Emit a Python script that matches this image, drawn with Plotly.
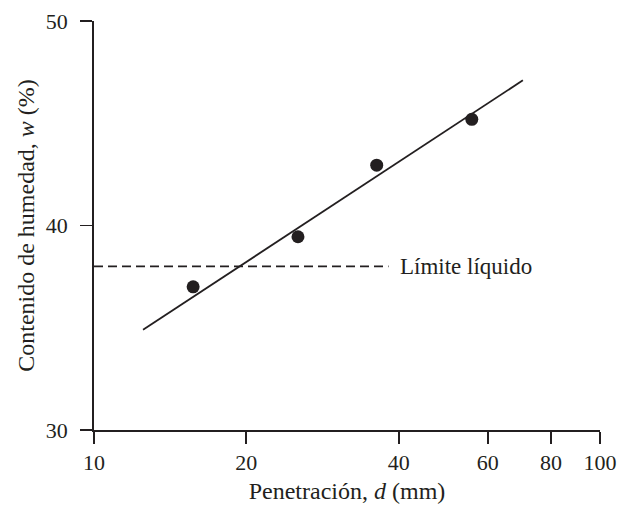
import math
import plotly.graph_objects as go

# Data
penetracion = [15.7, 25.3, 36.2, 55.8]
humedad = [37.0, 39.45, 42.95, 45.19]
recta_x = [12.5, 70.4]
recta_y = [34.9, 47.1]
limite_x = [10, 38.2]
limite_y = [38.0, 38.0]
x_ticks = [10, 20, 40, 60, 80, 100]
y_ticks = [30, 40, 50]

ink = "#231f20"
font = "Liberation Serif, Times New Roman, serif"

fig = go.Figure()
fig.add_trace(go.Scatter(x=recta_x, y=recta_y, mode="lines",
                         line=dict(color=ink, width=1.8), showlegend=False))
fig.add_trace(go.Scatter(x=limite_x, y=limite_y, mode="lines",
                         line=dict(color=ink, width=1.6, dash="9px,5px"), showlegend=False))
fig.add_trace(go.Scatter(x=penetracion, y=humedad, mode="markers",
                         marker=dict(color=ink, size=13), showlegend=False))

fig.add_annotation(x=math.log10(40.3), y=38.0, text="Límite líquido", showarrow=False,
                   xanchor="left", yanchor="middle", xshift=-2,
                   font=dict(family=font, size=23, color=ink))

fig.update_xaxes(type="log", range=[1, 2], tickvals=x_ticks, ticktext=[str(v) for v in x_ticks],
                 showline=True, linecolor=ink, linewidth=1.8, ticks="outside", ticklen=12,
                 tickcolor=ink, tickwidth=1.8, showgrid=False, zeroline=False, automargin=False,
                 tickfont=dict(family=font, size=22, color=ink),
                 title=dict(text="Penetración, <i>d</i> (mm)", font=dict(family=font, size=24, color=ink),
                            standoff=8))
fig.update_yaxes(range=[30, 50], tickvals=y_ticks, showline=True, linecolor=ink, linewidth=1.8,
                 ticks="outside", ticklen=12, tickcolor=ink, tickwidth=1.8, showgrid=False,
                 zeroline=False, automargin=False, ticklabelstandoff=8,
                 tickfont=dict(family=font, size=22, color=ink),
                 title=dict(text="Contenido de humedad, <i>w</i> (%)",
                            font=dict(family=font, size=24, color=ink), standoff=4))

fig.update_layout(width=620, height=511, margin=dict(l=94, r=20, t=21, b=81),
                  plot_bgcolor="white", paper_bgcolor="white")

# remove the browser's default 8px body margin so the figure fills the window exactly
fig.write_html("out.html", config={"displayModeBar": False, "staticPlot": True},
               post_script="document.body.style.margin='0';document.body.style.overflow='hidden';")
